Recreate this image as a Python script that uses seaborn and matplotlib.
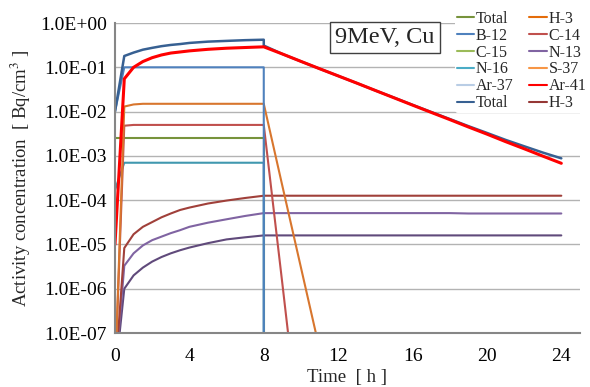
import numpy as np
import pandas as pd
import matplotlib
matplotlib.use("Agg")
import matplotlib.pyplot as plt
from matplotlib.lines import Line2D
from matplotlib.ticker import FuncFormatter, FixedLocator, NullLocator
import seaborn as sns

# --- data (Bq/cm3 vs hours) ---
time_h = [0, 0.5, 1, 1.5, 2, 2.5, 3, 3.5, 4, 5, 6, 7, 8,
          8, 9, 10, 11, 12, 13, 14, 15, 16, 17, 18, 19, 20, 21, 22, 23, 24]

total = [1.0e-2, 0.18, 0.215, 0.25, 0.275, 0.30, 0.32, 0.335, 0.355, 0.38, 0.395, 0.41, 0.42,
         0.31, 0.20, 0.136, 0.093, 0.064, 0.044, 0.030, 0.0207, 0.0142, 0.0098, 0.0068,
         0.0047, 0.0033, 0.0023, 0.00165, 0.00119, 0.00088]
ar41 = [1.0e-5, 0.055, 0.10, 0.135, 0.165, 0.19, 0.21, 0.222, 0.235, 0.255, 0.27, 0.28, 0.29,
        0.29, 0.20, 0.136, 0.093, 0.064, 0.044, 0.030, 0.0205, 0.014, 0.0096, 0.0066,
        0.0045, 0.0031, 0.0021, 0.00145, 0.00099, 0.00068]
b12 = [1.0e-2] + [0.1] * 12 + [1e-12] * 17
h3_orange = [1e-8, 0.013, 0.0145] + [0.015] * 11 + [2.1e-4, 3.0e-6, 4.3e-8, 6e-10] + [1e-12] * 12
c14 = [1e-8, 0.0048] + [0.005] * 12 + [1.3e-6, 3e-10] + [1e-12] * 14
green_total = [0.0025] * 13 + [1e-12] * 17
n16 = [1.7e-4] + [7.0e-4] * 12 + [1e-12] * 17
h3_dark = [1e-8, 8.3e-6, 1.7e-5, 2.5e-5, 3.2e-5, 4.1e-5, 5.0e-5, 6.0e-5, 6.8e-5, 8.4e-5,
           9.8e-5, 1.12e-4, 1.26e-4] + [1.26e-4] * 17
n13 = [1e-8, 3.3e-6, 6.3e-6, 9.5e-6, 1.25e-5, 1.5e-5, 1.8e-5, 2.1e-5, 2.5e-5, 3.1e-5,
       3.7e-5, 4.4e-5, 5.1e-5] + [5.1e-5] * 11 + [5.0e-5] * 6
ar37 = [1e-8, 1.0e-6, 2.0e-6, 3.0e-6, 4.1e-6, 5.2e-6, 6.3e-6, 7.4e-6, 8.5e-6, 1.07e-5,
        1.3e-5, 1.45e-5, 1.6e-5] + [1.6e-5] * 17

series = {
    "green_total": green_total,
    "n16": n16,
    "ar37": ar37,
    "n13": n13,
    "h3_dark": h3_dark,
    "c14": c14,
    "h3_orange": h3_orange,
    "b12": b12,
    "total": total,
    "ar41": ar41,
}
line_colors = {
    "green_total": "#77933C", "n16": "#4198AF", "ar37": "#604A7B", "n13": "#8064A2",
    "h3_dark": "#A0403A", "c14": "#C0504D", "h3_orange": "#D8762E", "b12": "#4F81BD",
    "total": "#376092", "ar41": "#FF0000",
}
line_widths = {k: 1.5 for k in series}
line_widths["total"] = 1.8
line_widths["ar41"] = 2.2

legend_labels = ['Total', 'H-3', 'B-12', 'C-14', 'C-15', 'N-13',
                 'N-16', 'S-37', 'Ar-37', 'Ar-41', 'Total', 'H-3']
legend_colors = ['#77933C', '#E46C0A', '#4F81BD', '#C0504D', '#9BBB59', '#8064A2',
                 '#4BACC6', '#F79646', '#B9CDE5', '#FF0000', '#376092', '#953735']

rows = []
for name, vals in series.items():
    for t, v in zip(time_h, vals):
        rows.append({"series": name, "time": t, "value": v})
df = pd.DataFrame(rows)

# --- plot ---
sns.set_style("white")
plt.rcParams['font.family'] = ['Liberation Serif', 'DejaVu Serif']
plt.rcParams['mathtext.fontset'] = 'stix'

fig = plt.figure(figsize=(5.9, 3.87), dpi=100)
ax = fig.add_axes([0.1949, 0.1395, 0.788, 0.801])

order = list(series.keys())
sns.lineplot(data=df, x="time", y="value", hue="series", size="series",
             hue_order=order, size_order=order, palette=line_colors, sizes=line_widths,
             estimator=None, sort=False, legend=False, ax=ax)

ax.set_yscale('log')
ax.set_ylim(1e-7, 1)
ax.set_xlim(0, 25)
ax.yaxis.set_major_locator(FixedLocator([10.0 ** p for p in range(-7, 1)]))
ax.yaxis.set_minor_locator(NullLocator())
ax.yaxis.set_major_formatter(FuncFormatter(lambda v, pos: f"{v:.1E}"))
ax.set_xticks([0, 4, 8, 12, 16, 20, 24])

ax.grid(True, axis='y', color='#B3B3B3', linewidth=1)
ax.grid(False, axis='x')
ax.set_axisbelow(True)
for side in ['top', 'right']:
    ax.spines[side].set_visible(False)
for side in ['left', 'bottom']:
    ax.spines[side].set_color('#868686')
    ax.spines[side].set_linewidth(1.5)
ax.tick_params(axis='both', direction='inout', length=6, width=1, color='#868686',
               labelsize=14, labelcolor='black')
ax.tick_params(axis='x', pad=8)
ax.tick_params(axis='y', pad=3)

ax.set_xlabel('Time  [ h ]', fontsize=13.5, labelpad=3)
ax.set_ylabel(r'Activity concentration  [ Bq/cm$^{3}$ ]', fontsize=13.5, labelpad=5)

ax.text(0.58, 0.953, '9MeV, Cu', transform=ax.transAxes, ha='center', va='center',
        fontsize=17.5, bbox=dict(boxstyle='square,pad=0.22', facecolor='white',
                                 edgecolor='#404040', linewidth=1))

handles = [Line2D([0], [0], color=c, lw=1.5) for c in legend_colors]
# matplotlib fills legend column-wise; reorder so rows read like the original
idx = [0, 2, 4, 6, 8, 10, 1, 3, 5, 7, 9, 11]
leg = ax.legend([handles[i] for i in idx], [legend_labels[i] for i in idx],
                ncol=2, loc='upper left', bbox_to_anchor=(455 / 590, 1 - 9 / 387),
                bbox_transform=fig.transFigure, fontsize=11.5, frameon=True,
                handlelength=1.1, handletextpad=0.1, columnspacing=1.0,
                labelspacing=0.06, borderpad=0.1, borderaxespad=0)
leg.get_frame().set_facecolor('white')
leg.get_frame().set_edgecolor('none')
leg.get_frame().set_alpha(1)

fig.savefig('out.png', dpi=100)
